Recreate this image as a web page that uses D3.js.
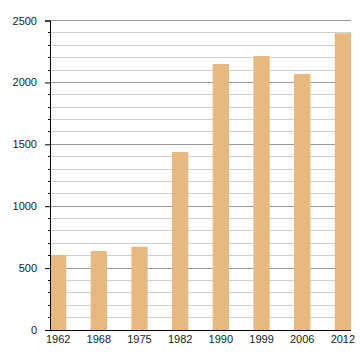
<!DOCTYPE html>
<html><head><meta charset="utf-8">
<script src="https://cdn.jsdelivr.net/npm/d3@7"></script>
<style>body{margin:0;background:#fff}svg{display:block}text{font-family:"Liberation Sans",Arial,sans-serif;font-size:11px;fill:#222}</style>
</head><body>
<script>
const categories = ["1962","1968","1975","1982","1990","1999","2006","2012"];
const values = [606, 638, 673, 1438, 2149, 2213, 2068, 2397];
const majorTicks = [0, 500, 1000, 1500, 2000, 2500];

const W = 360, H = 360;
const svg = d3.select("body").append("svg").attr("width", W).attr("height", H);
const x = d3.scaleBand().domain(categories).range([50, 351]).paddingInner(0.6).paddingOuter(0);
const y = d3.scaleLinear().domain([0, 2500]).range([330, 20.5]);

const minor = d3.range(0, 2501, 100).filter(v => v % 500 !== 0);
// minor grid
svg.append("g").selectAll("line").data(minor).join("line")
  .attr("x1", 50).attr("x2", 351).attr("y1", d => y(d)).attr("y2", d => y(d))
  .attr("stroke", "#cfcfcf").attr("stroke-width", 1).attr("shape-rendering", "crispEdges");
svg.append("g").selectAll("line").data(majorTicks.filter(d => d > 0)).join("line")
  .attr("x1", 50).attr("x2", 351).attr("y1", d => y(d)).attr("y2", d => y(d))
  .attr("stroke", "#999").attr("stroke-width", 1).attr("shape-rendering", "crispEdges");

// bars
svg.append("g").selectAll("rect").data(values).join("rect")
  .attr("x", (d, i) => x(categories[i])).attr("width", x.bandwidth())
  .attr("y", d => y(d)).attr("height", d => y(0) - y(d))
  .attr("fill", "#e7b97f");

// y axis
const ya = svg.append("g").attr("transform", "translate(50,0)")
  .call(d3.axisLeft(y).tickValues(majorTicks).tickSize(5).tickPadding(8).tickFormat(d3.format("d")));
ya.select(".domain").attr("stroke", "#000");
ya.selectAll(".tick line").attr("stroke", "#000");
ya.selectAll("text").style("font-size", "11px").attr("fill", "#222");
svg.append("g").selectAll("line").data(minor).join("line")
  .attr("x1", 47.5).attr("x2", 50).attr("y1", d => y(d)).attr("y2", d => y(d))
  .attr("stroke", "#000").attr("shape-rendering", "crispEdges");

// x axis
const xa = svg.append("g").attr("transform", "translate(0,330)")
  .call(d3.axisBottom(x).tickSize(0).tickPadding(5));
xa.select(".domain").attr("stroke", "#000").attr("d", "M50,0.5H351");
xa.selectAll("text").style("font-size", "11px").attr("fill", "#222");
</script>
</body></html>
